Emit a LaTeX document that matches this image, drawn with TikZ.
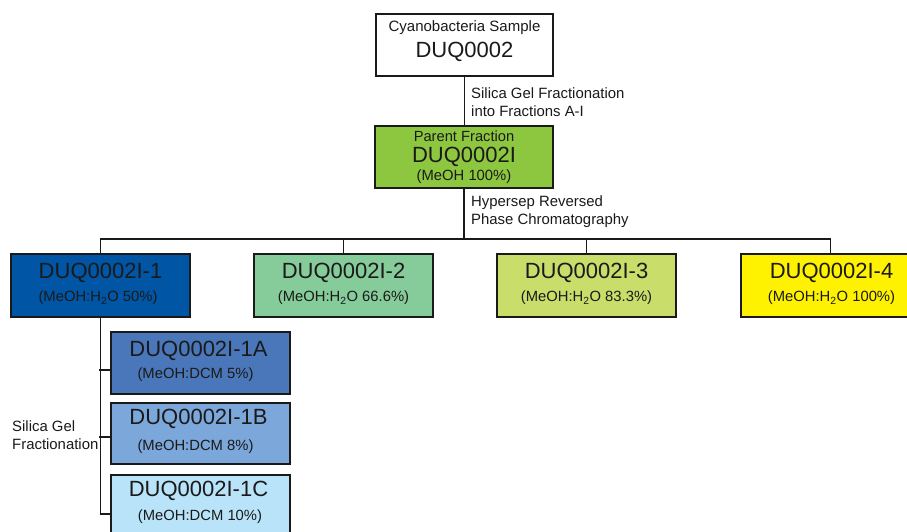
\documentclass[tikz,border=0pt]{standalone}
\usepackage{fontspec}
\setmainfont{Liberation Sans}
\definecolor{cparent}{HTML}{8DC63F}
\definecolor{cone}{HTML}{0055A5}
\definecolor{ctwo}{HTML}{86CB9A}
\definecolor{cthree}{HTML}{C9DD6A}
\definecolor{cfour}{HTML}{FFF200}
\definecolor{conea}{HTML}{4A76BA}
\definecolor{coneb}{HTML}{7BA7DA}
\definecolor{conec}{HTML}{B9E3F9}
\definecolor{ink}{HTML}{1A1A1A}
\begin{document}
\begin{tikzpicture}[x=1pt,y=-1pt,
 box/.style={draw=ink, line width=1.8pt, inner sep=0pt, minimum width=179pt, minimum height=62pt},
 conn/.style={draw=ink, line width=1.4pt},
 big/.style={font=\fontsize{22}{24}\selectfont, inner sep=0pt, text=ink},
 small/.style={font=\fontsize{14.8}{16}\selectfont, inner sep=0pt, text=ink},
 lab/.style={font=\fontsize{14.9}{18}\selectfont, inner sep=0pt, align=left, anchor=west, text=ink},
]
\useasboundingbox (0,0) rectangle (907,531);
\clip (0,0) rectangle (907,531);
\fill[white] (0,0) rectangle (907,531);

% boxes
\node[box, fill=white, minimum width=177pt] (top) at (464.5,45) {};
\node[box, fill=cparent, minimum width=178pt] (parent) at (464,157) {};
\node[box, fill=cone, minimum height=63pt] (b1) at (100.5,285.5) {};
\node[box, fill=ctwo, minimum height=63pt] (b2) at (343.5,285.5) {};
\node[box, fill=cthree, minimum height=63pt] (b3) at (586.5,285.5) {};
\node[box, fill=cfour, minimum height=63pt] (b4) at (830.5,285.5) {};
\node[box, fill=conea] (ba) at (200.5,363) {};
\node[box, fill=coneb, minimum height=61pt] (bb) at (200.5,433.5) {};
\node[box, fill=conec] (bc) at (200.5,506) {};

% connectors
\coordinate (bus) at (464,239);
\draw[conn] (top.south) -- (top.south |- parent.north);
\draw[conn] (parent.south) -- (bus);
\draw[conn] (b1.north) -- (b1.north |- bus) -- (b4.north |- bus) -- (b4.north);
\draw[conn] (b2.north) -- (b2.north |- bus);
\draw[conn] (b3.north) -- (b3.north |- bus);
\draw[conn] (b1.south) |- ([yshift=-8pt]bc.west);
\draw[conn] ([yshift=-7pt]ba.west) -- ++(-11,0);
\draw[conn] ([yshift=-3.5pt]bb.west) -- ++(-11,0);

% texts
\node[small, font=\fontsize{15}{17}\selectfont] (t1) at (464.5,28) {Cyanobacteria Sample};
\node[big] (t2) at (464.5,52) {DUQ0002};
\node[small, font=\fontsize{14.7}{17}\selectfont] (p1) at (464,136) {Parent Fraction};
\node[big] (p2) at (464,157) {DUQ0002I};
\node[small] (p3) at (464,177) {(MeOH 100\%)};

\node[big] (m1) at (100.5,273) {DUQ0002I-1};
\node[small] (s1) at (98,298) {(MeOH:H\textsubscript{2}O 50\%)};
\node[big] (m2) at (343.5,273) {DUQ0002I-2};
\node[small] (s2) at (343.5,298) {(MeOH:H\textsubscript{2}O 66.6\%)};
\node[big] (m3) at (586.5,273) {DUQ0002I-3};
\node[small] (s3) at (586.5,298) {(MeOH:H\textsubscript{2}O 83.3\%)};
\node[big] (m4) at (831.5,273) {DUQ0002I-4};
\node[small] (s4) at (831.5,298) {(MeOH:H\textsubscript{2}O 100\%)};

\node[big] (ma) at (198.5,351) {DUQ0002I-1A};
\node[small] (sa) at (195.5,375) {(MeOH:DCM 5\%)};
\node[big] (mb) at (198.5,419) {DUQ0002I-1B};
\node[small] (sb) at (195.5,447) {(MeOH:DCM 8\%)};
\node[big] (mc) at (198.5,491) {DUQ0002I-1C};
\node[small] (sc) at (200,517) {(MeOH:DCM 10\%)};

% labels
\node[lab] (l1) at (471,102) {Silica Gel Fractionation\\into Fractions A-I};
\node[lab] (l2) at (471,212) {Hypersep Reversed\\Phase Chromatography};
\node[lab] (l3) at (12,435) {Silica Gel\\Fractionation};
\end{tikzpicture}
\end{document}
